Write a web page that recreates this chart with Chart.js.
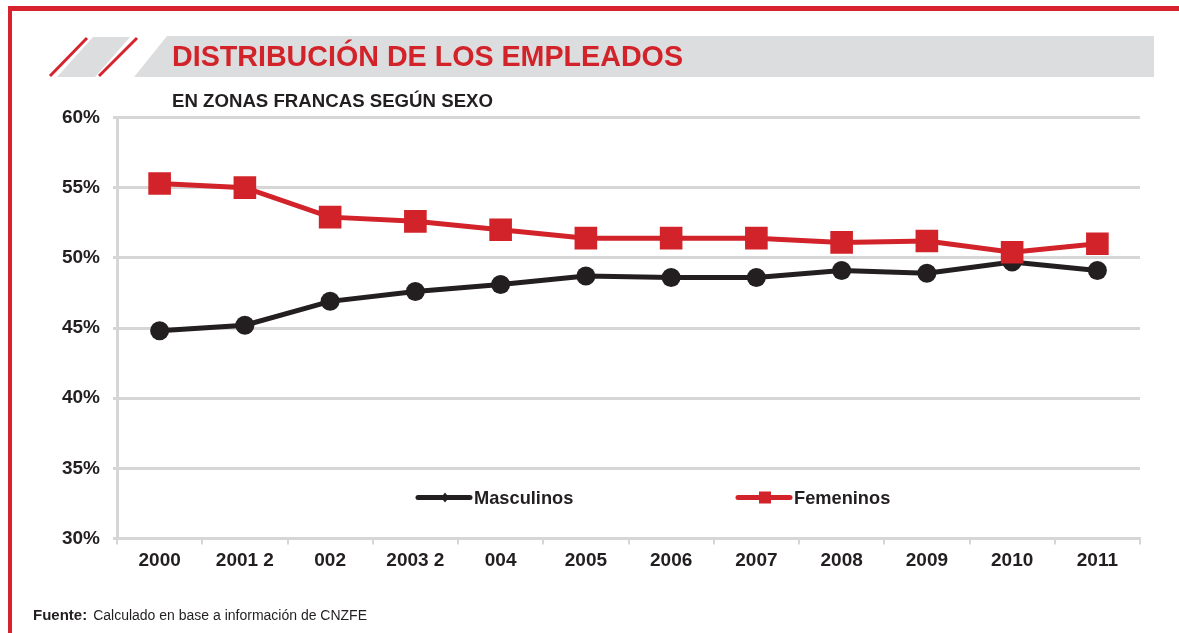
<!DOCTYPE html>
<html>
<head>
<meta charset="utf-8">
<script src="https://cdn.jsdelivr.net/npm/chart.js@4"></script>
<style>
  html, body { margin: 0; padding: 0; background: #fff; }
  #wrap { position: relative; width: 1179px; height: 633px; overflow: hidden; }
  #chart { position: absolute; left: 0; top: 0; }
  #deco { position: absolute; left: 0; top: 0; pointer-events: none; }
  .txt { position: absolute; white-space: nowrap; transform-origin: left top; color: #231f20; }
  #title { left: 172px; top: 40.5px; font: bold 30px/30px "Liberation Sans", Arial, sans-serif; color: #d2232a; }
  #subtitle { left: 172px; top: 92px; font: bold 18px/18px "Liberation Sans", Arial, sans-serif; }
  #source { left: 33px; top: 607px; font: 14px/16px "Liberation Sans", Arial, sans-serif; }
  #source b { font-size: 15px; margin-right: 6px; }
</style>
</head>
<body>
<div id="wrap">
  <canvas id="chart" width="1179" height="633"></canvas>
  <svg id="deco" width="1179" height="633">
    <!-- marco rojo -->
    <rect x="8" y="6" width="1171" height="5" fill="#d6232e"/>
    <rect x="8" y="6" width="4" height="627" fill="#d6232e"/>
    <!-- franjas del titulo -->
    <polygon points="57,77 95,77 130,37 93,37" fill="#dcddde"/>
    <line x1="50" y1="76" x2="87" y2="38" stroke="#d6232e" stroke-width="3"/>
    <line x1="99" y1="76" x2="137" y2="38" stroke="#d6232e" stroke-width="3"/>
    <polygon points="134,77 1154,77 1154,36 167,36" fill="#dcddde"/>
  </svg>
  <div id="title" class="txt">DISTRIBUCIÓN DE LOS EMPLEADOS</div>
  <div id="subtitle" class="txt">EN ZONAS FRANCAS SEGÚN SEXO</div>
  <div id="source" class="txt"><b>Fuente:</b>Calculado en base a información de CNZFE</div>
</div>
<script>
// datos
const years = ['2000', '2001 2', '002', '2003 2', '004', '2005', '2006', '2007', '2008', '2009', '2010', '2011'];
const masculinos = [44.8, 45.2, 46.9, 47.6, 48.1, 48.7, 48.6, 48.6, 49.1, 48.9, 49.7, 49.1];
const femeninos = [55.3, 55.0, 52.9, 52.6, 52.0, 51.4, 51.4, 51.4, 51.1, 51.2, 50.4, 51.0];
const yTicks = [30, 35, 40, 45, 50, 55, 60];

const RED = '#d2232a';
const BLACK = '#231f20';
const GRID = '#d6d6d6';

// ajustar ancho de textos condensados
function fitWidth(id, w) {
    const el = document.getElementById(id);
    if (!el) return;
    const real = el.getBoundingClientRect().width;
    if (real > 0) el.style.transform = 'scaleX(' + (w / real) + ')';
}
fitWidth('title', 511);
fitWidth('subtitle', 321);
fitWidth('source', 334);

// leyenda dentro del area del grafico
const insideLegend = {
    id: 'insideLegend',
    afterDatasetsDraw(chart) {
        const { ctx, chartArea } = chart;
        const y = chartArea.bottom - 41;
        const starts = [chartArea.left + 301, chartArea.left + 621];
        chart.data.datasets.forEach((ds, i) => {
            const x0 = starts[i];
            ctx.save();
            ctx.strokeStyle = ds.borderColor;
            ctx.fillStyle = ds.borderColor;
            ctx.lineWidth = 5;
            ctx.lineCap = 'round';
            ctx.beginPath();
            ctx.moveTo(x0, y);
            ctx.lineTo(x0 + 52, y);
            ctx.stroke();
            const mx = x0 + 27;
            if (ds.pointStyle === 'circle') {
                ctx.beginPath();
                ctx.moveTo(mx, y - 5);
                ctx.lineTo(mx + 4, y);
                ctx.lineTo(mx, y + 5);
                ctx.lineTo(mx - 4, y);
                ctx.closePath();
                ctx.fill();
            } else {
                ctx.fillRect(mx - 6, y - 6, 12, 12);
            }
            ctx.fillStyle = BLACK;
            ctx.font = 'bold 19px "Liberation Sans", Arial, sans-serif';
            ctx.textBaseline = 'middle';
            ctx.translate(x0 + 56, y + 1);
            ctx.scale(0.96, 1);
            ctx.fillText(ds.label, 0, 0);
            ctx.restore();
        });
    }
};

const ctx = document.getElementById('chart').getContext('2d');
new Chart(ctx, {
    type: 'line',
    data: {
        labels: years,
        datasets: [{
            label: 'Masculinos',
            data: masculinos,
            borderColor: BLACK,
            backgroundColor: BLACK,
            borderWidth: 5,
            pointStyle: 'circle',
            pointRadius: 9.5,
            pointBorderWidth: 0,
            tension: 0,
            order: 1
        }, {
            label: 'Femeninos',
            data: femeninos,
            borderColor: RED,
            backgroundColor: RED,
            borderWidth: 5,
            pointStyle: 'rect',
            pointRadius: 16,
            pointBorderWidth: 0,
            tension: 0,
            order: 0
        }]
    },
    options: {
        responsive: false,
        animation: false,
        layout: { padding: { left: 0, top: 117.5, right: 39, bottom: 44.5 } },
        plugins: {
            legend: { display: false },
            tooltip: { enabled: false }
        },
        scales: {
            x: {
                offset: true,
                afterFit: (scale) => { scale.height = 50; },
                grid: { drawOnChartArea: false, offset: true, color: GRID, lineWidth: 2, tickLength: 6 },
                border: { color: GRID, width: 3 },
                ticks: {
                    color: BLACK,
                    padding: 5,
                    maxRotation: 0,
                    autoSkip: false,
                    font: { family: '"Liberation Sans", Arial, sans-serif', size: 19, weight: 'bold' }
                }
            },
            y: {
                min: yTicks[0],
                max: yTicks[yTicks.length - 1],
                afterFit: (scale) => { scale.width = 117; },
                afterBuildTicks: (scale) => { scale.ticks = yTicks.map(v => ({ value: v })); },
                grid: { color: GRID, lineWidth: 3, tickLength: 4 },
                border: { color: GRID, width: 3 },
                ticks: {
                    color: BLACK,
                    padding: 13,
                    callback: (v) => v + '%',
                    font: { family: '"Liberation Sans", Arial, sans-serif', size: 19, weight: 'bold' }
                }
            }
        }
    },
    plugins: [insideLegend]
});
</script>
</body>
</html>
